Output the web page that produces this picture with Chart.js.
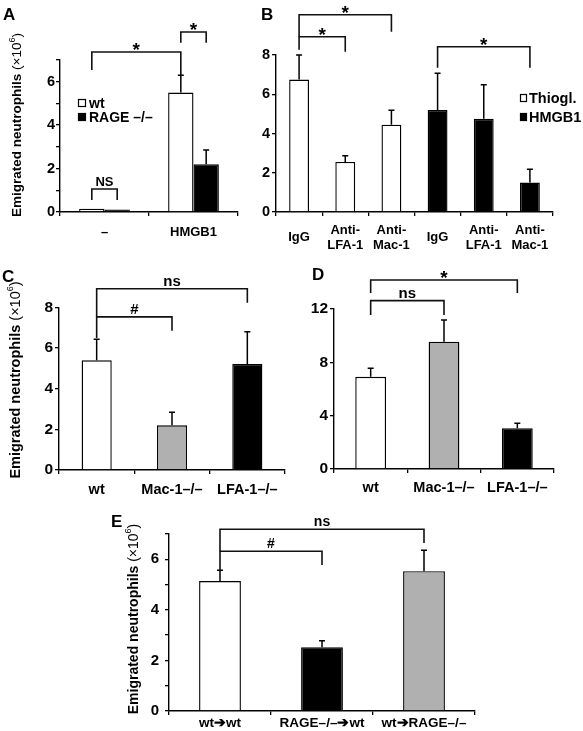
<!DOCTYPE html>
<html>
<head>
<meta charset="utf-8">
<script src="https://cdn.jsdelivr.net/npm/chart.js@4.4.1/dist/chart.umd.min.js"></script>
<style>
  body { margin: 0; background: #fff; }
  canvas { position: absolute; }
</style>
</head>
<body>
<canvas id="cA"></canvas>
<canvas id="cB"></canvas>
<canvas id="cC"></canvas>
<canvas id="cD"></canvas>
<canvas id="cE"></canvas>
<script>
// ---- data ----
var aLabels = ['–', 'HMGB1'];
var aWt = [0.15, 5.5];
var aWtErr = [0, 0.8];
var aRage = [0.12, 2.2];
var aRageErr = [0, 0.66];

var bLabels = ['IgG', ['Anti-', 'LFA-1'], ['Anti-', 'Mac-1'], 'IgG', ['Anti-', 'LFA-1'], ['Anti-', 'Mac-1']];
var bValues = [6.75, 2.55, 4.45, 5.2, 4.75, 1.5];
var bErr = [1.25, 0.31, 0.74, 1.87, 1.73, 0.68];
var bGroup = ['Thiogl.', 'Thiogl.', 'Thiogl.', 'HMGB1', 'HMGB1', 'HMGB1'];

var cLabels = ['wt', 'Mac-1–/–', 'LFA-1–/–'];
var cValues = [5.4, 2.2, 5.22];
var cErr = [1.04, 0.64, 1.59];

var dLabels = ['wt', 'Mac-1–/–', 'LFA-1–/–'];
var dValues = [6.92, 9.55, 3.05];
var dErr = [0.63, 1.63, 0.38];

var eLabels = ['wt➔wt', 'RAGE–/–➔wt', 'wt➔RAGE–/–'];
var eValues = [5.14, 2.52, 5.53];
var eErr = [0.43, 0.26, 0.83];

// brackets: [fromDataset, fromIndex, toDataset, toIndex, level, leftEnd, rightEnd, text]
var aBrackets = [[0, 0, 1, 0, 1.06, 0.55, 0.55, 'NS'], [0, 0, 0, 1, 7.37, 6.54, 6.31, '*'], [0, 1, 1, 1, 8.29, 7.79, 7.79, '*']];
var bBrackets = [[0, 0, 0, 2, 10.05, 8.93, 9.18, '*'], [0, 0, 0, 1, 8.93, 8.27, 8.16, '*'], [0, 3, 0, 5, 8.42, 7.35, 7.35, '*']];
var cBrackets = [[0, 0, 0, 2, 8.92, 7.54, 8.23, 'ns'], [0, 0, 0, 1, 7.54, 6.5, 6.85, '#']];
var dBrackets = [[0, 0, 0, 2, 14.18, 13.2, 13.2, '*'], [0, 0, 0, 1, 12.63, 11.55, 11.55, 'ns']];
var eBrackets = [[0, 0, 0, 2, 7.19, 6.32, 6.64, 'ns'], [0, 0, 0, 1, 6.32, 5.57, 5.77, '#']];

var WHITE = '#ffffff', BLACK = '#000000', GREY = '#b0b0b0';
var FONT = "'Liberation Sans', Arial, Helvetica, sans-serif";

Chart.defaults.font.family = FONT;
Chart.defaults.font.weight = 'bold';
Chart.defaults.color = '#000';

// error bars, brackets, legend, letters, y titles
var marks = {
  id: 'marks',
  afterDraw: function (chart, args, o) {
    var ctx = chart.ctx, y = chart.scales.y;
    var bx = o.box[0], by = o.box[1];
    ctx.save();
    ctx.strokeStyle = '#000';
    ctx.lineWidth = 1.5;

    chart.data.datasets.forEach(function (ds, di) {
      var meta = chart.getDatasetMeta(di);
      (ds.errors || []).forEach(function (e, i) {
        if (!e) return;
        var bar = meta.data[i];
        var top = y.getPixelForValue(ds.data[i] + e);
        ctx.beginPath();
        ctx.moveTo(bar.x, bar.y);
        ctx.lineTo(bar.x, top);
        ctx.moveTo(bar.x - 3, top);
        ctx.lineTo(bar.x + 3, top);
        ctx.stroke();
      });
    });

    ctx.lineWidth = 1.6;
    ctx.strokeStyle = '#111';
    (o.brackets || []).forEach(function (b) {
      var x1 = chart.getDatasetMeta(b[0]).data[b[1]].x;
      var x2 = chart.getDatasetMeta(b[2]).data[b[3]].x;
      var yl = y.getPixelForValue(b[4]);
      ctx.beginPath();
      ctx.moveTo(x1, y.getPixelForValue(b[5]));
      ctx.lineTo(x1, yl);
      ctx.lineTo(x2, yl);
      ctx.lineTo(x2, y.getPixelForValue(b[6]));
      ctx.stroke();
      ctx.fillStyle = '#000';
      ctx.textAlign = 'center';
      ctx.textBaseline = 'alphabetic';
      if (b[7] === '*') {
        ctx.font = 'bold 19px ' + FONT;
        ctx.fillText('*', (x1 + x2) / 2, yl + 4);
      } else {
        ctx.font = 'bold ' + o.sigSize + 'px ' + FONT;
        ctx.fillText(b[7], (x1 + x2) / 2, yl - 3);
      }
    });

    if (o.legend) {
      var L = o.legend;
      ctx.font = 'bold ' + L.size + 'px ' + FONT;
      ctx.textAlign = 'left';
      ctx.textBaseline = 'middle';
      ctx.lineWidth = 1.2;
      L.items.forEach(function (it, i) {
        var sx = L.x - bx, sy = L.y - by + i * L.gap;
        ctx.fillStyle = it[1];
        ctx.fillRect(sx, sy, L.w, L.h);
        ctx.strokeStyle = '#000';
        ctx.strokeRect(sx + 0.5, sy + 0.5, L.w - 1, L.h - 1);
        ctx.fillStyle = '#000';
        ctx.fillText(it[0], sx + L.w + L.gapText, sy + L.h / 2 + 1);
      });
    }

    if (o.letter) {
      ctx.fillStyle = '#000';
      ctx.font = 'bold 17px ' + FONT;
      ctx.textAlign = 'left';
      ctx.textBaseline = 'alphabetic';
      ctx.fillText(o.letter[0], o.letter[1] - bx, o.letter[2] - by);
    }

    if (o.title) {
      var T = o.title, s = T.size;
      var parts = [['Emigrated neutrophils ', 'bold ' + s + 'px ', 0], ['(×10', s + 'px ', 0], ['6', Math.round(s * 0.65) + 'px ', -s * 0.35], [')', s + 'px ', 0]];
      var total = 0;
      parts.forEach(function (p) { ctx.font = p[1] + FONT; p.push(ctx.measureText(p[0]).width); total += p[3]; });
      ctx.translate(T.x - bx, T.y - by);
      ctx.rotate(-Math.PI / 2);
      ctx.textAlign = 'left';
      ctx.textBaseline = 'middle';
      ctx.fillStyle = '#000';
      var cx = -total / 2;
      parts.forEach(function (p) {
        ctx.font = p[1] + FONT;
        ctx.fillText(p[0], cx, p[2] + s * 0.05);
        cx += p[3];
      });
    }
    ctx.restore();
  }
};

function makePanel(p) {
  var c = document.getElementById(p.id);
  c.style.left = p.box[0] + 'px';
  c.style.top = p.box[1] + 'px';
  c.width = p.box[2];
  c.height = p.box[3];
  var yW = p.area[0] - p.box[0];
  var xH = p.box[1] + p.box[3] - p.area[3];
  return new Chart(c, {
    type: 'bar',
    data: { labels: p.labels, datasets: p.datasets },
    plugins: [marks],
    options: {
      responsive: false,
      animation: false,
      devicePixelRatio: 1,
      categoryPercentage: p.catPct,
      barPercentage: p.barPct,
      layout: { padding: { left: 0, top: p.area[1] - p.box[1], right: p.box[0] + p.box[2] - p.area[2], bottom: 0 } },
      plugins: {
        legend: { display: false },
        tooltip: { enabled: false },
        marks: { box: p.box, brackets: p.brackets, legend: p.legend, letter: p.letter, title: p.title, sigSize: p.sigSize }
      },
      scales: {
        x: {
          z: 1,
          grid: { display: true, drawOnChartArea: false, drawTicks: true, tickLength: 4, color: '#000', lineWidth: 1.3, offset: true },
          border: { display: true, color: '#000', width: 1.4 },
          ticks: { font: { size: p.xSize, weight: 'bold' }, color: '#000', padding: p.xPad, maxRotation: 0, autoSkip: false, crossAlign: p.crossAlign || 'near' },
          afterFit: function (s) { s.height = xH; }
        },
        y: {
          z: 1,
          min: 0,
          max: p.yMax,
          grid: { display: true, drawOnChartArea: false, drawTicks: true, tickLength: 4, color: '#000', lineWidth: 1.3 },
          border: { display: true, color: '#000', width: 1.4 },
          ticks: {
            stepSize: p.yStep,
            font: { size: p.ySize, weight: 'bold' },
            color: '#000',
            padding: p.yPad,
            callback: function (v) { return v % p.yEvery === 0 ? v : ''; }
          },
          afterFit: function (s) { s.width = yW; }
        }
      }
    }
  });
}

function bars(values, errors, colors) {
  return { data: values, errors: errors, backgroundColor: colors, borderColor: '#000', borderWidth: 1.4, borderSkipped: 'bottom' };
}

var bColors = bGroup.map(function (g) { return g === 'Thiogl.' ? WHITE : BLACK; });

makePanel({
  id: 'cA', box: [0, 0, 270, 260], area: [60, 60, 238, 212],
  labels: aLabels,
  datasets: [
    Object.assign(bars(aWt, aWtErr, WHITE), { label: 'wt' }),
    Object.assign(bars(aRage, aRageErr, BLACK), { label: 'RAGE –/–' })
  ],
  catPct: 0.57, barPct: 1, yMax: 7, yStep: 1, yEvery: 2,
  xSize: 13, xPad: 9, ySize: 14.5, yPad: 1, sigSize: 13,
  brackets: aBrackets,
  legend: { x: 78, y: 99, w: 8, h: 8, gap: 14, gapText: 3, size: 14, items: [['wt', WHITE], ['RAGE –/–', BLACK]] },
  letter: ['A', 3, 20],
  title: { x: 17, y: 125, size: 13.5 }
});

makePanel({
  id: 'cB', box: [255, 0, 328, 260], area: [276, 55, 553, 212],
  labels: bLabels,
  datasets: [bars(bValues, bErr, bColors)],
  catPct: 1, barPct: 0.43, yMax: 8, yStep: 2, yEvery: 2,
  xSize: 13, xPad: 14, ySize: 14.5, yPad: 2, sigSize: 13, crossAlign: 'center',
  brackets: bBrackets,
  legend: { x: 520, y: 94, w: 7, h: 8, gap: 19, gapText: 2, size: 14.5, items: [['Thiogl.', WHITE], ['HMGB1', BLACK]] },
  letter: ['B', 261, 20]
});

makePanel({
  id: 'cC', box: [0, 260, 300, 240], area: [59, 307.5, 285, 470],
  labels: cLabels,
  datasets: [bars(cValues, cErr, [WHITE, GREY, BLACK])],
  catPct: 1, barPct: 0.4, yMax: 8, yStep: 2, yEvery: 2,
  xSize: 14.5, xPad: 7, ySize: 15.5, yPad: 2, sigSize: 15,
  brackets: cBrackets,
  letter: ['C', 2, 282],
  title: { x: 15, y: 380, size: 14.5 }
});

makePanel({
  id: 'cD', box: [295, 260, 288, 240], area: [334, 309, 554, 469],
  labels: dLabels,
  datasets: [bars(dValues, dErr, [WHITE, GREY, BLACK])],
  catPct: 1, barPct: 0.42, yMax: 12, yStep: 4, yEvery: 4,
  xSize: 14.5, xPad: 6, ySize: 15.5, yPad: 2, sigSize: 15,
  brackets: dBrackets,
  letter: ['D', 312, 280]
});

makePanel({
  id: 'cE', box: [95, 500, 420, 231], area: [169, 534, 475, 711],
  labels: eLabels,
  datasets: [bars(eValues, eErr, [WHITE, BLACK, GREY])],
  catPct: 1, barPct: 0.41, yMax: 7, yStep: 1, yEvery: 2,
  xSize: 13.5, xPad: 0, ySize: 15, yPad: 6, sigSize: 14,
  brackets: eBrackets,
  letter: ['E', 111, 527],
  title: { x: 133, y: 619, size: 14 }
});
</script>
</body>
</html>
